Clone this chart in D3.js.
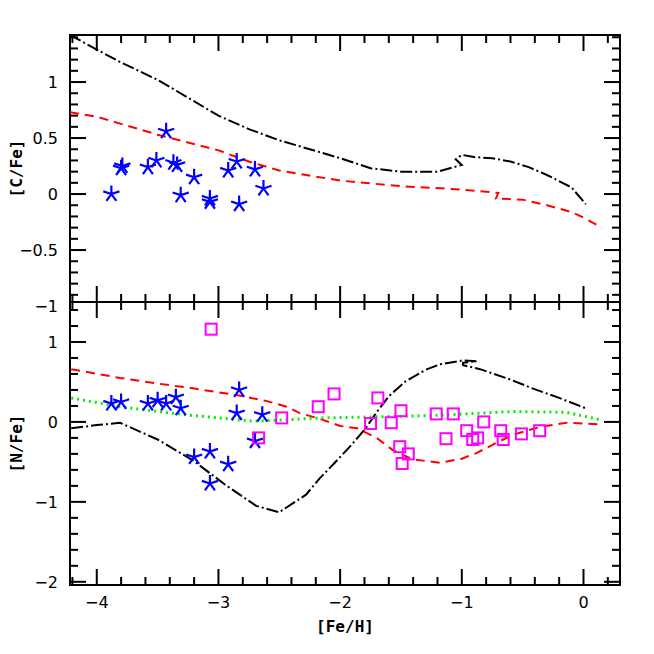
<!DOCTYPE html>
<html>
<head>
<script src="https://d3js.org/d3.v7.min.js"></script>
<style>
body { margin:0; background:#fff; }
text { font-family: "DejaVu Sans", sans-serif; }
.ttl { font-family: "DejaVu Sans Mono", monospace; font-weight: bold; font-size: 16px; }
</style>
</head>
<body>
<script>
// ---- data ----
var cStars = [[-3.88,0.0],[-3.79,0.25],[-3.80,0.23],[-3.58,0.24],[-3.51,0.30],[-3.43,0.56],[-3.37,0.28],[-3.34,0.26],
  [-3.31,-0.01],[-3.20,0.15],[-3.07,-0.04],[-3.07,-0.07],[-2.92,0.21],[-2.85,0.29],[-2.83,-0.09],[-2.70,0.22],[-2.63,0.05]];
var cBlack = [[-4.22,1.42],[-4.0,1.29],[-3.81,1.18],[-3.5,1.02],[-3.25,0.86],[-3.0,0.70],[-2.75,0.58],[-2.5,0.48],[-2.25,0.40],
  [-2.0,0.32],[-1.75,0.23],[-1.5,0.20],[-1.2,0.20],[-1.0,0.26],[-1.05,0.31],[-1.0,0.35],[-0.9,0.33],[-0.75,0.32],[-0.6,0.29],
  [-0.45,0.24],[-0.3,0.17],[-0.1,0.06],[0.02,-0.09]];
var cRed = [[-4.22,0.73],[-4.0,0.69],[-3.75,0.61],[-3.5,0.53],[-3.25,0.46],[-3.0,0.39],[-2.75,0.29],[-2.5,0.21],[-2.0,0.12],
  [-1.5,0.07],[-1.0,0.04],[-0.7,0.01],[-0.72,-0.04],[-0.5,-0.05],[-0.3,-0.10],[-0.1,-0.16],[0.0,-0.21],[0.15,-0.30]];
var nStars = [[-3.88,0.23],[-3.80,0.25],[-3.58,0.23],[-3.50,0.27],[-3.43,0.23],[-3.35,0.31],[-3.31,0.17],[-3.20,-0.44],
  [-3.07,-0.37],[-3.07,-0.77],[-2.92,-0.53],[-2.83,0.40],[-2.85,0.11],[-2.64,0.09],[-2.70,-0.24]];
var nSquares = [[-3.06,1.16],[-2.67,-0.20],[-2.48,0.05],[-2.18,0.19],[-2.05,0.35],[-1.75,-0.02],[-1.69,0.30],[-1.58,-0.01],
  [-1.50,0.14],[-1.51,-0.31],[-1.44,-0.40],[-1.49,-0.52],[-1.21,0.10],[-1.13,-0.21],[-1.07,0.10],[-0.96,-0.11],
  [-0.91,-0.22],[-0.87,-0.20],[-0.82,0.00],[-0.68,-0.11],[-0.66,-0.22],[-0.51,-0.15],[-0.36,-0.11]];
var nBlack = [[-4.21,-0.08],[-4.0,-0.04],[-3.81,-0.01],[-3.5,-0.22],[-3.21,-0.48],[-2.95,-0.78],[-2.69,-1.05],[-2.5,-1.13],
  [-2.28,-0.91],[-2.17,-0.71],[-2.05,-0.52],[-1.92,-0.31],[-1.79,-0.08],[-1.7,0.12],[-1.6,0.32],[-1.46,0.51],[-1.3,0.65],[-1.18,0.72],[-0.99,0.77],
  [-0.88,0.76],[-0.99,0.74],[-0.99,0.71],[-0.85,0.66],[-0.6,0.53],[-0.42,0.42],[-0.2,0.30],[0.02,0.17]];
var nRed = [[-4.21,0.66],[-3.81,0.55],[-3.5,0.48],[-3.21,0.42],[-2.83,0.33],[-2.6,0.26],[-2.44,0.19],[-2.33,0.11],
  [-2.17,0.04],[-2.0,-0.05],[-1.86,-0.08],[-1.7,-0.20],[-1.57,-0.35],[-1.4,-0.47],[-1.18,-0.51],[-1.0,-0.46],
  [-0.88,-0.39],[-0.7,-0.25],[-0.58,-0.16],[-0.35,-0.06],[-0.14,-0.01],[0.13,-0.03]];
var nGreen = [[-4.21,0.30],[-3.81,0.19],[-3.5,0.13],[-3.21,0.08],[-2.72,0.01],[-2.4,0.03],[-2.17,0.05],[-1.79,0.06],
  [-1.24,0.08],[-0.58,0.13],[-0.14,0.12],[0.13,0.03]];
var xTicks = [-4,-3,-2,-1,0];
var cTicks = [-1,-0.5,0,0.5,1];
var nTicks = [-2,-1,0,1];

// ---- layout ----
var L = 70, R = 620, T = 35, M = 302, B = 585;
var svg = d3.select('body').append('svg').attr('width',654).attr('height',654);
var x = d3.scaleLinear().domain([-4.22,0.3]).range([L,R]);
var yc = d3.scaleLinear().domain([-0.964,1.42]).range([M,T]);
var yn = d3.scaleLinear().domain([-2.04,1.5]).range([B,M]);

function frame(y, top, bot, minor, ticks, fmt) {
  var g = svg.append('g');
  g.append('rect').attr('x',L).attr('y',top).attr('width',R-L).attr('height',bot-top)
    .attr('fill','none').attr('stroke','#000').attr('stroke-width',2);
  var d = y.domain();
  var ys = d3.range(Math.ceil(d[0]/minor-1e-6), Math.floor(d[1]/minor+1e-6)+1).map(function(k){return k*minor;});
  ys.forEach(function(v){
    var major = ticks.some(function(t){return Math.abs(t-v)<1e-6;});
    var len = major ? 16 : 8;
    g.append('line').attr('x1',L).attr('x2',L+len).attr('y1',y(v)).attr('y2',y(v)).attr('stroke','#000').attr('stroke-width',2);
    g.append('line').attr('x1',R).attr('x2',R-len).attr('y1',y(v)).attr('y2',y(v)).attr('stroke','#000').attr('stroke-width',2);
  });
  ticks.forEach(function(t){
    g.append('text').attr('x',L-12).attr('y',y(t)+6).attr('text-anchor','end').attr('font-size',16).text(fmt(t));
  });
  d3.range(-21,2).map(function(k){return k*0.2;}).forEach(function(v){
    var major = Math.abs(v-Math.round(v))<1e-6;
    var len = major ? 16 : 8;
    g.append('line').attr('x1',x(v)).attr('x2',x(v)).attr('y1',top).attr('y2',top+len).attr('stroke','#000').attr('stroke-width',2);
    g.append('line').attr('x1',x(v)).attr('x2',x(v)).attr('y1',bot).attr('y2',bot-len).attr('stroke','#000').attr('stroke-width',2);
  });
}
var fmt = function(t){ return String(t).replace('-','\u2212'); };
frame(yc, T, M, 0.1, cTicks, fmt);
frame(yn, M, B, 0.2, nTicks, fmt);

xTicks.forEach(function(t){
  svg.append('text').attr('x',x(t)).attr('y',B+23).attr('text-anchor','middle').attr('font-size',16).text(fmt(t));
});
svg.append('text').attr('class','ttl').attr('x',(L+R)/2).attr('y',B+47).attr('text-anchor','middle').text('[Fe/H]');
svg.append('text').attr('class','ttl').attr('transform','translate(22,'+(T+M)/2+') rotate(-90)').attr('text-anchor','middle').text('[C/Fe]');
svg.append('text').attr('class','ttl').attr('transform','translate(22,'+(M+B)/2+') rotate(-90)').attr('text-anchor','middle').text('[N/Fe]');

function curve(data, y, color, dash, w, clipId) {
  svg.append('path').datum(data).attr('d', d3.line().x(function(d){return x(d[0]);}).y(function(d){return y(d[1]);}))
    .attr('fill','none').attr('stroke',color).attr('stroke-width',w).attr('stroke-dasharray',dash)
    .attr('clip-path','url(#'+clipId+')');
}
var defs = svg.append('defs');
defs.append('clipPath').attr('id','ct').append('rect').attr('x',L).attr('y',T).attr('width',R-L).attr('height',M-T);
defs.append('clipPath').attr('id','cb').append('rect').attr('x',L).attr('y',M).attr('width',R-L).attr('height',B-M);

curve(cBlack, yc, '#000', '12,3,2,3', 2, 'ct');
curve(cRed, yc, '#ff0000', '9,6', 2, 'ct');
curve(nBlack, yn, '#000', '12,3,2,3', 2, 'cb');
curve(nRed, yn, '#ff0000', '9,6', 2, 'cb');
curve(nGreen, yn, '#00ee00', '2,4', 3, 'cb');

// five-armed asterisk marker
var starPath = d3.range(5).map(function(i){
  var a = -Math.PI/2 + i*2*Math.PI/5;
  return 'M0,0L' + (8.5*Math.cos(a)).toFixed(2) + ',' + (8.5*Math.sin(a)).toFixed(2);
}).join('');
function stars(data, y) {
  svg.append('g').selectAll('path').data(data).enter().append('path')
    .attr('d', starPath).attr('transform', function(d){return 'translate('+x(d[0])+','+y(d[1])+')';})
    .attr('fill','none').attr('stroke','#0000ff').attr('stroke-width',2.2);
}
stars(cStars, yc);
stars(nStars, yn);
svg.append('g').selectAll('rect').data(nSquares).enter().append('rect')
  .attr('x', function(d){return x(d[0])-5.5;}).attr('y', function(d){return yn(d[1])-5.5;})
  .attr('width',11).attr('height',11).attr('fill','none').attr('stroke','#ff00ff').attr('stroke-width',2);
</script>
</body>
</html>
